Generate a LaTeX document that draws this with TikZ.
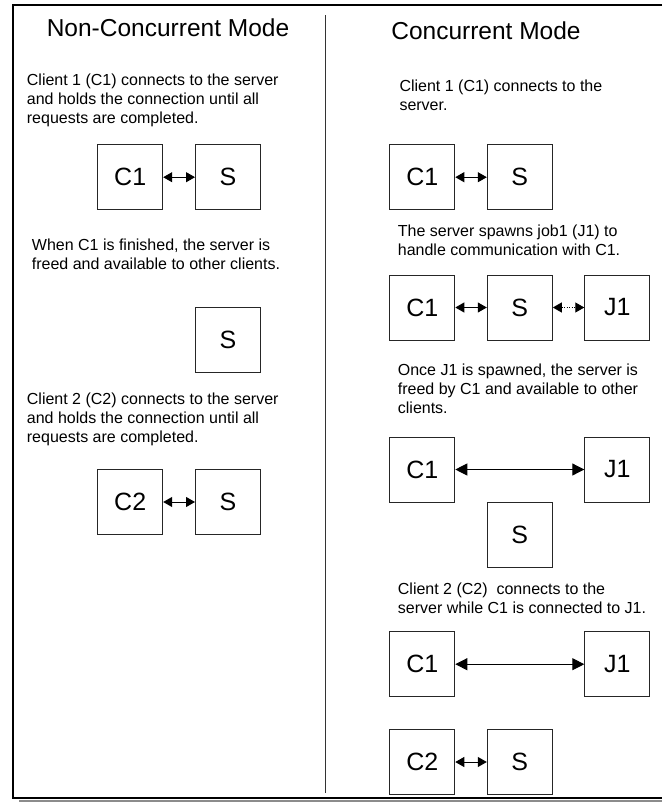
\documentclass[tikz,border=0pt]{standalone}
\usepackage{fontspec}
\setmainfont{Liberation Sans}
\usetikzlibrary{arrows.meta}
\begin{document}
\begin{tikzpicture}[x=1pt,y=-1pt,
  box/.style={draw=black!85, line width=1pt, minimum width=65pt, minimum height=65pt, inner sep=0pt, font=\fontsize{25}{25}\selectfont},
  txt/.style={anchor=base west, inner sep=0pt, align=left, font=\fontsize{16}{18.7}\selectfont},
  ttl/.style={anchor=base, inner sep=0pt, font=\fontsize{24.5}{26}\selectfont},
  sarrow/.style={{Triangle[length=9pt,width=10pt]}-{Triangle[length=9pt,width=10pt]}, line width=1pt},
  larrow/.style={{Triangle[length=12pt,width=12pt]}-{Triangle[length=12pt,width=12pt]}, line width=1pt},
  frame/.style={line width=2pt, black},
]
\useasboundingbox (0,0) rectangle (662,803);
\fill[white] (0,0) rectangle (662,803);
% frame
\coordinate (ftr) at (662,5);
\coordinate (ftl) at (13,5);
\coordinate (fbl) at (13,798.2);
\coordinate (fbr) at (662,798.2);
\coordinate (sl) at (19,801);
\coordinate (sr) at (662,801);
\draw[line width=2.4pt, black!45] (sl) -- (sr);
\draw[frame] (ftr) -- (ftl) -- (fbl) -- (fbr);
% divider
\coordinate (dt) at (325,15);
\coordinate (db) at (325,793);
\draw[line width=1pt, black!80] (dt) -- (db);

% titles
\node[ttl] (tl) at (168,36) {Non-Concurrent Mode};
\node[ttl] (tr) at (486,39) {Concurrent Mode};

% left column (anchor = baseline of last line)
\node[txt] (pl1) at (26.7,123) {Client 1 (C1) connects to the server\\and holds the connection until all\\requests are completed.};
\node[box] (lc1) at (130.2,177.2) {C1};
\node[box] (ls1) at (228,177.2) {S};
\draw[sarrow] (lc1) -- (ls1);

\node[txt] (pl2) at (31.7,269) {When C1 is finished, the server is\\freed and available to other clients.};
\node[box] (ls2) at (228,340.3) {S};

\node[txt] (pl3) at (26.7,442) {Client 2 (C2) connects to the server\\and holds the connection until all\\requests are completed.};
\node[box] (lc2) at (130.2,502) {C2};
\node[box] (ls3) at (228,502) {S};
\draw[sarrow] (lc2) -- (ls3);

% right column
\node[txt] (pr1) at (399.3,110) {Client 1 (C1) connects to the\\server.};
\node[box] (rc1) at (422.3,177.2) {C1};
\node[box] (rs1) at (519.8,177.2) {S};
\draw[sarrow] (rc1) -- (rs1);

\node[txt] (pr2) at (397.7,255.5) {The server spawns job1 (J1) to\\handle communication with C1.};
\node[box] (rc2) at (422.3,307.5) {C1};
\node[box] (rs2) at (519.8,307.5) {S};
\node[box] (rj2) at (617.3,307.5) {J1};
\draw[sarrow] (rc2) -- (rs2);
\draw[sarrow, dash pattern=on 1pt off 1.5pt] (rs2) -- (rj2);

\node[txt] (pr3) at (397.7,413) {Once J1 is spawned, the server is\\freed by C1 and available to other\\clients.};
\node[box] (rc3) at (422.3,469.5) {C1};
\node[box] (rj3) at (617.3,469.5) {J1};
\node[box] (rs3) at (519.8,534.5) {S};
\draw[larrow] (rc3) -- (rj3);

\node[txt] (pr4) at (397.7,613.5) {Client 2 (C2)\ \ connects to the\\server while C1 is connected to J1.};
\node[box] (rc4) at (422.3,664.2) {C1};
\node[box] (rj4) at (617.3,664.2) {J1};
\draw[larrow] (rc4) -- (rj4);
\node[box] (rc5) at (422.3,762) {C2};
\node[box] (rs5) at (519.8,762) {S};
\draw[sarrow] (rc5) -- (rs5);
\end{tikzpicture}
\end{document}
